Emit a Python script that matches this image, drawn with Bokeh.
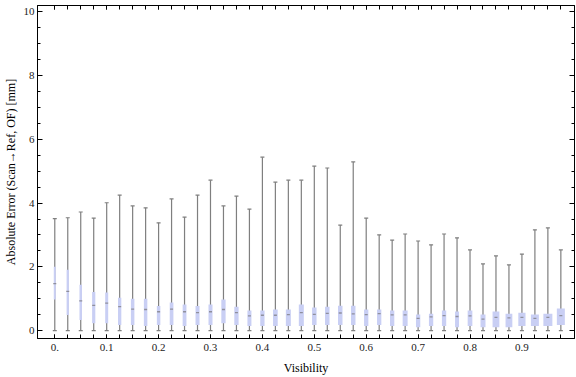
from bokeh.plotting import figure
from bokeh.models import Range1d, FixedTicker, LinearAxis, ColumnDataSource
from bokeh.embed import file_html
from bokeh.resources import INLINE

# ---- data ----
visibility = [0.0, 0.025, 0.05, 0.075, 0.1, 0.125, 0.15, 0.175, 0.2, 0.225,
              0.25, 0.275, 0.3, 0.325, 0.35, 0.375, 0.4, 0.425, 0.45, 0.475,
              0.5, 0.525, 0.55, 0.575, 0.6, 0.625, 0.65, 0.675, 0.7, 0.725,
              0.75, 0.775, 0.8, 0.825, 0.85, 0.875, 0.9, 0.925, 0.95, 0.975]
whisker_hi = [3.51, 3.54, 3.72, 3.53, 4.01, 4.25, 3.91, 3.85, 3.38, 4.13,
              3.56, 4.25, 4.72, 3.91, 4.22, 3.81, 5.44, 4.66, 4.72, 4.72,
              5.16, 5.10, 3.31, 5.29, 3.53, 3.00, 2.84, 3.03, 2.81, 2.69,
              3.03, 2.91, 2.53, 2.09, 2.34, 2.06, 2.40, 3.16, 3.22, 2.53]
whisker_lo = [0.0] * 40
q3 = [2.00, 1.91, 1.44, 1.21, 1.19, 1.03, 1.00, 1.00, 0.77, 0.88,
      0.82, 0.77, 0.82, 0.97, 0.75, 0.63, 0.63, 0.66, 0.66, 0.82,
      0.72, 0.75, 0.78, 0.78, 0.66, 0.66, 0.63, 0.63, 0.50, 0.53,
      0.63, 0.60, 0.63, 0.50, 0.60, 0.53, 0.56, 0.50, 0.53, 0.69]
q1 = [0.97, 0.49, 0.33, 0.23, 0.23, 0.17, 0.17, 0.14, 0.17, 0.17,
      0.14, 0.17, 0.17, 0.23, 0.17, 0.14, 0.14, 0.14, 0.14, 0.14,
      0.17, 0.17, 0.17, 0.17, 0.14, 0.17, 0.14, 0.14, 0.10, 0.14,
      0.14, 0.10, 0.14, 0.10, 0.10, 0.10, 0.14, 0.14, 0.14, 0.17]
median = [1.47, 1.23, 0.93, 0.79, 0.86, 0.75, 0.67, 0.66, 0.59, 0.67,
          0.59, 0.56, 0.59, 0.66, 0.56, 0.46, 0.48, 0.48, 0.50, 0.56,
          0.51, 0.54, 0.55, 0.52, 0.50, 0.53, 0.49, 0.49, 0.38, 0.43,
          0.47, 0.44, 0.46, 0.36, 0.41, 0.40, 0.41, 0.38, 0.41, 0.47]
# relative box width (weight of each bin)
rel_width = [2.0, 2.3, 2.5, 3.2, 3.0, 3.3, 3.5, 3.5, 3.5, 3.7,
             3.8, 4.0, 4.0, 4.3, 4.3, 4.0, 4.3, 4.7, 5.0, 5.0,
             4.5, 4.5, 4.5, 4.5, 4.3, 4.3, 4.3, 5.0, 4.3, 4.3,
             4.3, 4.0, 4.7, 5.0, 6.8, 6.8, 7.2, 8.0, 9.0, 8.0]
x_major = [0.0, 0.1, 0.2, 0.3, 0.4, 0.5, 0.6, 0.7, 0.8, 0.9]
x_labels = ["0.", "0.1", "0.2", "0.3", "0.4", "0.5", "0.6", "0.7", "0.8", "0.9"]
y_major = [0, 2, 4, 6, 8, 10]
y_minor = [0.5, 1, 1.5, 2.5, 3, 3.5, 4.5, 5, 5.5, 6.5, 7, 7.5, 8.5, 9, 9.5]

FONT = "Liberation Serif"
width_scale = 0.1 / 52.0

src = ColumnDataSource(dict(
    x=visibility, hi=whisker_hi, lo=whisker_lo, q1=q1, q3=q3, med=median,
    w=[r * width_scale for r in rel_width],
))

p = figure(width=576, height=377, output_backend="svg", toolbar_location=None,
           x_range=Range1d(-0.0333, 1.0013), y_range=Range1d(-0.25, 10.2),
           min_border_left=0, min_border_right=2, min_border_top=5,
           min_border_bottom=39)
p.xgrid.visible = False
p.ygrid.visible = False
p.outline_line_color = "black"
p.outline_line_width = 1
p.background_fill_color = "white"
p.border_fill_color = "white"

# whiskers
p.segment(x0="x", y0="lo", x1="x", y1="hi", source=src,
          line_color="#7f7f7f", line_width=1.2)
p.scatter(x="x", y="hi", source=src, marker="dash", size=4,
          line_color="#7f7f7f", line_width=1.2)
p.scatter(x="x", y="lo", source=src, marker="dash", size=4,
          line_color="#7f7f7f", line_width=1.2)
# boxes
p.vbar(x="x", width="w", bottom="q1", top="q3", source=src,
       fill_color="#c9cff4", line_color=None)
# medians
p.scatter(x="x", y="med", source=src, marker="dash", size=3,
          line_color="#8f8f9c", line_width=1.3)

def style_axis(ax, ticker, overrides=None):
    ax.ticker = ticker
    ax.axis_line_color = "black"
    ax.major_tick_line_color = "black"
    ax.minor_tick_line_color = "black"
    ax.major_tick_out = 0
    ax.minor_tick_out = 0
    if overrides:
        ax.major_label_overrides = overrides
    ax.major_label_text_font = FONT
    ax.major_label_text_font_size = "11px"
    ax.major_label_text_color = "#222222"
    ax.axis_label_text_font = FONT
    ax.axis_label_text_font_size = "12px"
    ax.axis_label_text_font_style = "normal"
    ax.axis_label_text_color = "black"

xt = FixedTicker(ticks=x_major, minor_ticks=visibility)
yt = FixedTicker(ticks=y_major, minor_ticks=y_minor)

xa = p.xaxis[0]
style_axis(xa, xt, {v: s for v, s in zip(x_major, x_labels)})
xa.major_tick_in = 4
xa.minor_tick_in = 4
xa.major_label_standoff = 5
xa.axis_label = "Visibility"
xa.axis_label_standoff = 7

ya = p.yaxis[0]
style_axis(ya, yt)
ya.major_tick_in = 5
ya.minor_tick_in = 3
ya.major_label_standoff = 3
ya.axis_label = "Absolute Error (Scan\u2192Ref, OF) [mm]"
ya.axis_label_standoff = 3

# ticks on the top and right frame edges
xtop = LinearAxis()
style_axis(xtop, FixedTicker(ticks=x_major, minor_ticks=visibility),
           {v: "" for v in x_major})
xtop.major_tick_in = 4
xtop.minor_tick_in = 4
xtop.major_label_standoff = 0
p.add_layout(xtop, "above")

yright = LinearAxis()
style_axis(yright, FixedTicker(ticks=y_major, minor_ticks=y_minor),
           {v: "" for v in y_major})
yright.major_tick_in = 5
yright.minor_tick_in = 3
yright.major_label_standoff = 0
p.add_layout(yright, "right")

open("out.html", "w").write(file_html(p, INLINE))
